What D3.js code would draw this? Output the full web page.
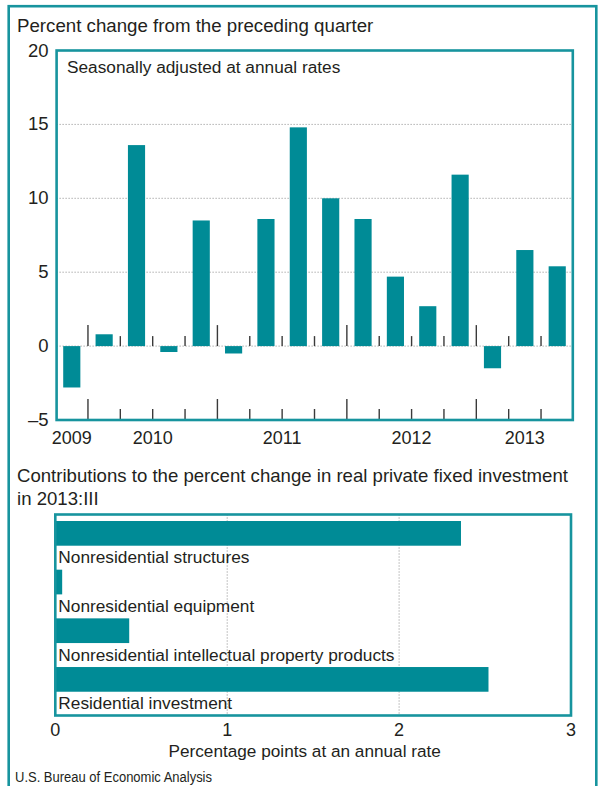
<!DOCTYPE html>
<html><head><meta charset="utf-8">
<script src="https://cdn.jsdelivr.net/npm/d3@7/dist/d3.min.js"></script>
<style>
body{margin:0;background:#fff}
text{font-family:"Liberation Sans",Arial,Helvetica,sans-serif;fill:#231f20}
</style>
</head><body>
<svg id="c" width="598" height="786"></svg>
<script>
// ---- data ----
const quarters = ["2009 Q4","2010 Q1","2010 Q2","2010 Q3","2010 Q4","2011 Q1","2011 Q2","2011 Q3","2011 Q4","2012 Q1","2012 Q2","2012 Q3","2012 Q4","2013 Q1","2013 Q2","2013 Q3"];
const pctChange = [-2.8,0.8,13.6,-0.4,8.5,-0.5,8.6,14.8,10.0,8.6,4.7,2.7,11.6,-1.5,6.5,5.4];
const yTicks = [-5,0,5,10,15,20];
const gridTicks = [0,5,10,15];
const yearLabels = ["2009","2010","2011","2012","2013"];
const components = ["Nonresidential structures","Nonresidential equipment","Nonresidential intellectual property products","Residential investment"];
const contributions = [2.36,0.04,0.43,2.52];
const xTicks = [0,1,2,3];
const topTitle = "Percent change from the preceding quarter";
const topSubtitle = "Seasonally adjusted at annual rates";
const bottomTitle = ["Contributions to the percent change in real private fixed investment","in 2013:III"];
const bottomAxisTitle = "Percentage points at an annual rate";
const sourceNote = "U.S. Bureau of Economic Analysis";

// ---- styles ----
const TEAL = "#008b96";
const FRAME = "#17949e";
const svg = d3.select("#c");

// outer frame
svg.append("rect").attr("x",8.7).attr("y",6.2).attr("width",587.6).attr("height",800)
  .attr("fill","none").attr("stroke",FRAME).attr("stroke-width",2.6);

// ================= TOP CHART =================
const xb = d3.scaleBand().domain(quarters).range([55.6,573.4]).paddingInner(0.47).paddingOuter(0.235);
const y = d3.scaleLinear().domain([-5,20]).range([420,50.5]);
const [px0,px1] = [56.6,572.8];

svg.append("text").attr("x",17).attr("y",31.5).attr("font-size",18.7).text(topTitle);

// grid
svg.append("g").selectAll("line").data(gridTicks).join("line")
  .attr("x1",px0).attr("x2",px1).attr("y1",d=>y(d)).attr("y2",d=>y(d))
  .attr("stroke","#8a8a8a").attr("stroke-width",1).attr("stroke-dasharray","1,2");

// y tick labels
svg.append("g").selectAll("text").data(yTicks).join("text")
  .attr("x",48.5).attr("y",d=>y(d)+6).attr("text-anchor","end").attr("font-size",18.5)
  .text(d=>d<0?"\u2013"+Math.abs(d):d);

// quarter boundary ticks
const bounds = quarters.slice(1).map((q,i)=>({x:xb(q)-xb.step()*xb.paddingInner()/2, tall:q.endsWith("Q1")}));
const tg = svg.append("g").attr("stroke","#3a3a3a").attr("stroke-width",1.4);
tg.selectAll(".tb").data(bounds).join("line").attr("class","tb")
  .attr("x1",d=>d.x).attr("x2",d=>d.x).attr("y1",d=>y(-5)-(d.tall?21:11)).attr("y2",y(-5));
tg.selectAll(".tz").data(bounds).join("line").attr("class","tz")
  .attr("x1",d=>d.x).attr("x2",d=>d.x).attr("y1",d=>y(0)-(d.tall?21:10)).attr("y2",y(0));

// bars
svg.append("g").selectAll("rect").data(pctChange).join("rect")
  .attr("x",(d,i)=>xb(quarters[i])).attr("width",xb.bandwidth())
  .attr("y",d=>y(Math.max(0,d))).attr("height",d=>Math.abs(y(d)-y(0)))
  .attr("fill",TEAL);

// plot frame
svg.append("rect").attr("x",px0).attr("y",y(20)).attr("width",px1-px0).attr("height",y(-5)-y(20))
  .attr("fill","none").attr("stroke",FRAME).attr("stroke-width",2.6);

svg.append("text").attr("x",67).attr("y",72.5).attr("font-size",17.25).text(topSubtitle);

// year labels
svg.append("g").selectAll("text").data(yearLabels).join("text")
  .attr("x",yr=>{
    const qs = quarters.filter(q=>q.startsWith(yr));
    return (xb(qs[0]) + xb(qs[qs.length-1]) + xb.bandwidth())/2;
  })
  .attr("y",444).attr("text-anchor","middle").attr("font-size",18).text(d=>d);

// ================= BOTTOM CHART =================
const xh = d3.scaleLinear().domain([0,3]).range([55.3,571]);
const yh = d3.scaleBand().domain(components).range([514.5,715.5]).paddingInner(0.4925).paddingOuter(0.311).align(0.215);

svg.append("g").selectAll("text").data(bottomTitle).join("text")
  .attr("x",17).attr("y",(d,i)=>482+i*23).attr("font-size",18.6).text(d=>d);

svg.append("g").selectAll("line").data(xTicks.slice(1,-1)).join("line")
  .attr("x1",d=>xh(d)).attr("x2",d=>xh(d)).attr("y1",514.5).attr("y2",715.5)
  .attr("stroke","#8a8a8a").attr("stroke-width",1).attr("stroke-dasharray","1,2");

svg.append("g").selectAll("rect").data(contributions).join("rect")
  .attr("x",xh(0)).attr("y",(d,i)=>yh(components[i])).attr("height",yh.bandwidth())
  .attr("width",d=>xh(d)-xh(0)).attr("fill",TEAL);

svg.append("g").selectAll("text").data(components).join("text")
  .attr("x",58.3).attr("y",d=>yh(d)+yh.bandwidth()+17.5).attr("font-size",17.3).text(d=>d);

svg.append("rect").attr("x",xh(0)).attr("y",514.5).attr("width",xh(3)-xh(0)).attr("height",201)
  .attr("fill","none").attr("stroke",FRAME).attr("stroke-width",2.6);

svg.append("g").selectAll("text").data(xTicks).join("text")
  .attr("x",d=>xh(d)).attr("y",736).attr("text-anchor","middle").attr("font-size",18).text(d=>d);

svg.append("text").attr("x",304.7).attr("y",757).attr("text-anchor","middle").attr("font-size",17.2).text(bottomAxisTitle);

svg.append("text").attr("x",15).attr("y",782).attr("font-size",14)
  .attr("textLength",197).attr("lengthAdjust","spacingAndGlyphs").text(sourceNote);
</script>
</body></html>
